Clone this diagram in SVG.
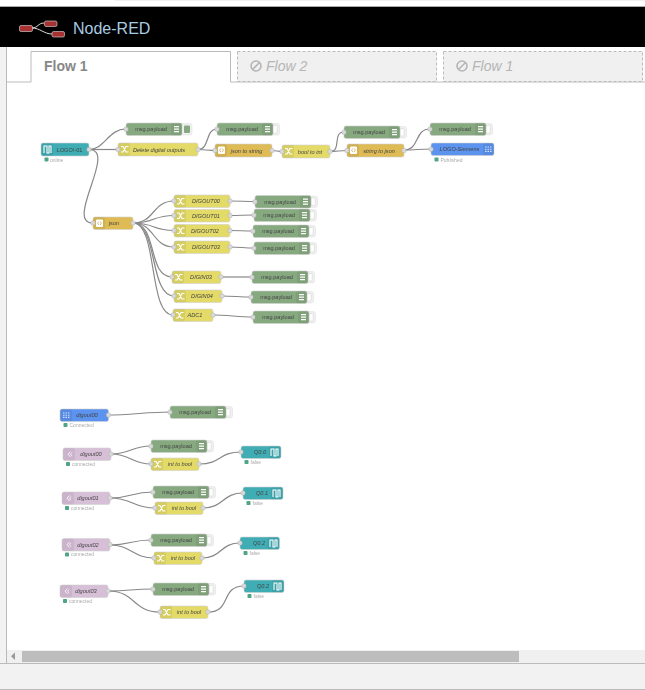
<svg xmlns="http://www.w3.org/2000/svg" width="645" height="690" viewBox="0 0 645 690">
<style>
text{font-family:"Liberation Sans",Arial,sans-serif}
.b{stroke:#d2d2d2;stroke-width:.6}
.fn{fill:#e3da68}.js{fill:#dfbb55}.dg{fill:#87a980}.tl{fill:#3fadb5}.bl{fill:#5b93ee}.pu{fill:#d8bfd8}
.z{fill:#000;fill-opacity:.06}
.l{font-size:5.6px;fill:#444;text-anchor:middle}
.i{font-style:italic}
.s{font-size:5px;fill:#aaa}
.d{fill:#4fa585}
.w{fill:none;stroke:#888;stroke-width:1.2}
.ic{fill:none;stroke:#fff;stroke-width:1.1}
.t{font-size:14px;font-style:italic;fill:#b5b5b5}
.tb{fill:#f0f0f0;stroke:#bbb;stroke-dasharray:3 2}
</style>
<defs>
<filter id="soft" filterUnits="userSpaceOnUse" x="0" y="90" width="645" height="550"><feGaussianBlur stdDeviation=".3"/></filter>
<g id="p"><rect x="-2.1" y="-2.1" width="4.2" height="4.2" rx="1.3" fill="#d9d9d9" stroke="#aaa" stroke-width=".4"/></g>
<g id="sh"><path class="ic" d="M3 3.500H5L8 9H10.500M3 9H5L8 3.500H10.500"/></g>
<g id="cd"><rect x="3" y="2.500" width="7" height="7.500" rx="1" fill="#fff"/><path d="M5.800 4.500 4.600 6.200 5.800 8M7.200 4.500 8.400 6.200 7.200 8" fill="none" stroke="#c9a040" stroke-width=".7"/></g>
<g id="wv"><path class="ic" d="M3 10V3H6V10H8V3H10V10"/></g>
<g id="ws"><path d="M7.500 3.500 5 6.200 7.500 9M9 4.500 7.500 6.200 9 8" fill="none" stroke="#fff" stroke-width=".8"/></g>
<g id="gr"><path d="M3 4H10M3 6.200H10M3 8.400H10" fill="none" stroke="#cfe0ff" stroke-width="1.100" stroke-dasharray="1.500 1"/></g>
<g id="dbgb"><rect x="52" y=".6" width="10.500" height="11.300" rx="2" fill="#f1f1f1" stroke="#ddd" stroke-width=".5"/><rect x="56" y="2.500" width="4.200" height="7.500" rx="1" fill="#fff" stroke="#ccc" stroke-width=".5"/></g>
<g id="dbg"><use href="#dbgb"/><rect class="dg b" width="56" height="12.500" rx="2"/><rect class="z" x="45" width="11" height="12.500" rx="2"/><path d="M48 3.700H53M48 6.200H53M48 8.700H53" stroke="#fff" stroke-width="1.200"/><use href="#p" y="6.250"/></g>
</defs>
<rect width="645" height="690" fill="#fff"/>
<rect x="115" width="530" height="1" fill="#f0f0f0"/>
<rect y="6" width="645" height="1" fill="#aaa"/>
<rect y="7" width="645" height="40" fill="#000"/>
<rect y="47" width="7" height="617" fill="#f2f2f2"/>
<rect x="6" y="47" width=".8" height="617" fill="#aaa"/>
<g id="logo">
<path d="M32 28C38 28 38 23 44 23M32 28C40 28 44 34 52 34" fill="none" stroke="#ddd" stroke-width="1"/>
<rect x="19.500" y="25.500" width="13" height="6" rx="1.500" fill="#a83232" stroke="#ddd" stroke-width=".6"/>
<rect x="44.500" y="21" width="12.500" height="5.500" rx="1.500" fill="#a83232" stroke="#ddd" stroke-width=".6"/>
<rect x="52" y="31.500" width="12.500" height="5.500" rx="1.500" fill="#a83232" stroke="#ddd" stroke-width=".6"/>
</g>
<text x="73" y="34" font-size="16" fill="#a8cbe0">Node-RED</text>
<g id="tabs">
<path d="M7 82H31V51.500H230.500V82H645" fill="#fff" stroke="#bbb"/>
<rect class="tb" x="237.500" y="51.500" width="199" height="30"/>
<rect class="tb" x="443.500" y="51.500" width="199" height="30"/>
<text x="44" y="71" font-size="14" font-weight="bold" fill="#888">Flow 1</text>
<circle cx="256" cy="66" r="5" fill="none" stroke="#b5b5b5" stroke-width="1.600"/><path d="M252.500 69.500 259.500 62.500" stroke="#b5b5b5" stroke-width="1.600"/>
<text class="t" x="266" y="71">Flow 2</text>
<circle cx="462" cy="66" r="5" fill="none" stroke="#b5b5b5" stroke-width="1.600"/><path d="M458.500 69.500 465.500 62.500" stroke="#b5b5b5" stroke-width="1.600"/>
<text class="t" x="472" y="71">Flow 1</text>
</g>
<g id="canvas" filter="url(#soft)">
<g id="connectors" class="w">
<path d="M89 149.500C105 149.500 108 129 126 129"/>
<path d="M89 149.500H118"/>
<path d="M89 149.500C118 149.500 64 223 93 223"/>
<path d="M198 149.500C210 149.500 205 129 217 129"/>
<path d="M198 149.500C205 149.500 208 150.500 215 150.500"/>
<path d="M272 150.500C276 150.500 278 151.500 282 151.500"/>
<path d="M330 151.500C342 151.500 332 132 344 132"/>
<path d="M330 151.500C337 151.500 340 150.500 347 150.500"/>
<path d="M404 150C420 150 414 129 430 129"/>
<path d="M404 150C415 150 420 149 431 149"/>
<path d="M133 223C155 223 152 201 174 201"/>
<path d="M133 223C155 223 152 215.500 174 215.500"/>
<path d="M133 223C155 223 152 230.500 174 230.500"/>
<path d="M133 223C155 223 152 247 174 247"/>
<path d="M133 223C158 223 147 277 172 277"/>
<path d="M133 223C158 223 149 296 174 296"/>
<path d="M133 223C158 223 148 315 173 315"/>
<path d="M230 201C240 201 245 201.500 255 201.500"/>
<path d="M230 215.500C240 215.500 244 215 254 215"/>
<path d="M230 230.500C240 230.500 243 231 253 231"/>
<path d="M230 247C240 247 244 248 254 248"/>
<path d="M221 277C232 277 241 277 252 277"/>
<path d="M222 296C232 296 241 297 251 297"/>
<path d="M213 315C228 315 238 317 253 317"/>
<path d="M108 415C130 415 148 412 170 412"/>
<path d="M111 454C130 454 132 446 151 446"/>
<path d="M111 454C130 454 132 464 151 464"/>
<path d="M199 464C222 464 218 452 241 452"/>
<path d="M110 498C132 498 131 492 153 492"/>
<path d="M110 498C132 498 133 508 155 508"/>
<path d="M203 508C224 508 222 493 243 493"/>
<path d="M110 545C130 545 131 540 151 540"/>
<path d="M110 545C131 545 133 558 154 558"/>
<path d="M202 558C222 558 220 543 240 543"/>
<path d="M108 591C130 591 131 589 153 589"/>
<path d="M108 591C136 591 132 612 160 612"/>
<path d="M208 612C232 612 220 586 244 586"/>
</g>
<g id="logo01" transform="translate(41,143)"><rect class="tl b" width="48" height="13" rx="2"/><rect class="z" width="12" height="13" rx="2"/><use href="#wv"/><use href="#p" x="48" y="6.500"/><text class="l" x="28.500" y="8.500">LOGO!-01</text><rect class="d" x="3.500" y="14.500" width="4" height="4" rx=".8"/><text class="s" x="9" y="18.500">online</text></g>
<g id="dbg1" transform="translate(126,123)"><rect x="52" y=".6" width="14" height="11.300" rx="2" fill="#f1f1f1" stroke="#ddd" stroke-width=".5"/><rect x="58" y="2.500" width="6" height="7.500" rx="1" fill="#87a980"/><rect class="dg b" width="56" height="12.500" rx="2"/><rect class="z" x="45" width="11" height="12.500" rx="2"/><path d="M48 3.700H53M48 6.200H53M48 8.700H53" stroke="#fff" stroke-width="1.200"/><use href="#p" y="6.250"/><text class="l" x="25" y="8.200">msg.payload</text></g>
<g id="del" transform="translate(118,143)"><rect class="fn b" width="80" height="13" rx="2"/><rect class="z" width="12" height="13" rx="2"/><use href="#sh"/><use href="#p" y="6.500"/><use href="#p" x="80" y="6.500"/><text class="l i" x="41" y="8.500">Delete digital outputs</text></g>
<g id="dbg2" transform="translate(217,123)"><use href="#dbg"/><text class="l" x="25" y="8.200">msg.payload</text></g>
<g id="j2s" transform="translate(215,144)"><rect class="js b" width="57" height="13" rx="2"/><rect class="z" width="12" height="13" rx="2"/><use href="#cd"/><use href="#p" y="6.500"/><use href="#p" x="57" y="6.500"/><text class="l i" x="31.500" y="8.500">json to string</text></g>
<g id="b2i" transform="translate(282,145)"><rect class="fn b" width="48" height="13" rx="2"/><rect class="z" width="12" height="13" rx="2"/><use href="#sh"/><use href="#p" y="6.500"/><use href="#p" x="48" y="6.500"/><text class="l i" x="28" y="8.500">bool to int</text></g>
<g id="dbg3" transform="translate(344,126)"><use href="#dbg"/><text class="l" x="25" y="8.200">msg.payload</text></g>
<g id="s2j" transform="translate(347,144)"><rect class="js b" width="57" height="13" rx="2"/><rect class="z" width="12" height="13" rx="2"/><use href="#cd"/><use href="#p" y="6.500"/><use href="#p" x="57" y="6.500"/><text class="l i" x="32" y="8.500">string to json</text></g>
<g id="dbg4" transform="translate(430,123)"><use href="#dbg"/><text class="l" x="25" y="8.200">msg.payload</text></g>
<g id="siemens" transform="translate(431,143)"><rect class="bl b" width="63" height="12.500" rx="2"/><rect class="z" x="52" width="11" height="12.500" rx="2"/><use href="#gr" x="51"/><use href="#p" y="6.250"/><text class="l i" x="28.500" y="8.200">LOGO-Siemens</text><rect class="d" x="3.500" y="14.500" width="4" height="4" rx=".8"/><text class="s" x="9.500" y="18.500">Published</text></g>
<g id="json" transform="translate(93,217)"><rect class="js b" width="40" height="12.500" rx="2"/><rect class="z" width="12" height="12.500" rx="2"/><use href="#cd"/><use href="#p" y="6"/><use href="#p" x="40" y="6"/><text class="l" x="21" y="8.200">json</text></g>
<g id="f0" transform="translate(174,195)"><rect class="fn b" width="56" height="12.500" rx="2"/><rect class="z" width="12" height="12.500" rx="2"/><use href="#sh"/><use href="#p" y="6"/><use href="#p" x="56" y="6"/><text class="l i" x="32" y="8.200">DIGOUT00</text></g>
<g id="f1" transform="translate(174,209.500)"><rect class="fn b" width="56" height="12.500" rx="2"/><rect class="z" width="12" height="12.500" rx="2"/><use href="#sh"/><use href="#p" y="6"/><use href="#p" x="56" y="6"/><text class="l i" x="32" y="8.200">DIGOUT01</text></g>
<g id="f2" transform="translate(174,224.500)"><rect class="fn b" width="56" height="12.500" rx="2"/><rect class="z" width="12" height="12.500" rx="2"/><use href="#sh"/><use href="#p" y="6"/><use href="#p" x="56" y="6"/><text class="l i" x="31" y="8.200">DIGOUT02</text></g>
<g id="f3" transform="translate(174,241)"><rect class="fn b" width="56" height="12.500" rx="2"/><rect class="z" width="12" height="12.500" rx="2"/><use href="#sh"/><use href="#p" y="6"/><use href="#p" x="56" y="6"/><text class="l i" x="32" y="8.200">DIGOUT03</text></g>
<g id="f4" transform="translate(172,271)"><rect class="fn b" width="49" height="12.500" rx="2"/><rect class="z" width="12" height="12.500" rx="2"/><use href="#sh"/><use href="#p" y="6"/><use href="#p" x="49" y="6"/><text class="l i" x="29" y="8.200">DIGIN03</text></g>
<g id="f5" transform="translate(174,290)"><rect class="fn b" width="48" height="12.500" rx="2"/><rect class="z" width="12" height="12.500" rx="2"/><use href="#sh"/><use href="#p" y="6"/><use href="#p" x="48" y="6"/><text class="l i" x="28" y="8.200">DIGIN04</text></g>
<g id="f6" transform="translate(173,309)"><rect class="fn b" width="40" height="12.500" rx="2"/><rect class="z" width="12" height="12.500" rx="2"/><use href="#sh"/><use href="#p" y="6"/><use href="#p" x="40" y="6"/><text class="l i" x="22" y="8.200">ADC1</text></g>
<g id="d0" transform="translate(255,195.500)"><use href="#dbg"/><text class="l" x="25" y="8.200">msg.payload</text></g>
<g id="d1" transform="translate(254,209)"><use href="#dbg"/><text class="l" x="25" y="8.200">msg.payload</text></g>
<g id="d2" transform="translate(253,225)"><use href="#dbg"/><text class="l" x="25" y="8.200">msg.payload</text></g>
<g id="d3" transform="translate(254,242)"><use href="#dbg"/><text class="l" x="25" y="8.200">msg.payload</text></g>
<g id="d4" transform="translate(252,271)"><use href="#dbg"/><text class="l" x="25" y="8.200">msg.payload</text></g>
<g id="d5" transform="translate(251,291)"><use href="#dbg"/><text class="l" x="25" y="8.200">msg.payload</text></g>
<g id="d6" transform="translate(253,311)"><use href="#dbg"/><text class="l" x="25" y="8.200">msg.payload</text></g>
<g id="blue0" transform="translate(60,409)"><rect class="bl b" width="48.500" height="12.500" rx="2"/><rect class="z" width="12" height="12.500" rx="2"/><use href="#gr"/><use href="#p" x="48.500" y="6"/><text class="l i" x="27" y="8.200">digout00</text><rect class="d" x="3.500" y="14" width="4" height="4" rx=".8"/><text class="s" x="9.500" y="17.500">Connected</text></g>
<g id="d7" transform="translate(170,406)"><use href="#dbg"/><text class="l" x="25" y="8.200">msg.payload</text></g>
<g id="in0" transform="translate(63,448)"><rect class="pu b" width="48" height="12.500" rx="2"/><rect class="z" width="12" height="12.500" rx="2"/><use href="#ws"/><use href="#p" x="48" y="6"/><text class="l i" x="28" y="8.200">digout00</text><rect class="d" x="3" y="14" width="4" height="4" rx=".8"/><text class="s" x="9" y="17.500">connected</text></g>
<g id="d8" transform="translate(151,440)"><use href="#dbg"/><text class="l" x="25" y="8.200">msg.payload</text></g>
<g id="ib0" transform="translate(151,458)"><rect class="fn b" width="48" height="12.500" rx="2"/><rect class="z" width="12" height="12.500" rx="2"/><use href="#sh"/><use href="#p" y="6"/><use href="#p" x="48" y="6"/><text class="l i" x="29" y="8.200">int to bool</text></g>
<g id="q0" transform="translate(241,446)"><rect class="tl b" width="40" height="12.500" rx="2"/><rect class="z" x="28" width="12" height="12.500" rx="2"/><use href="#wv" x="27"/><use href="#p" y="6"/><text class="l i" x="19" y="8.200">Q0.0</text><rect class="d" x="3.500" y="14" width="4" height="4" rx=".8"/><text class="s" x="9.500" y="17.500">false</text></g>
<g id="in1" transform="translate(62,492)"><rect class="pu b" width="48" height="12.500" rx="2"/><rect class="z" width="12" height="12.500" rx="2"/><use href="#ws"/><use href="#p" x="48" y="6"/><text class="l i" x="26" y="8.200">digout01</text><rect class="d" x="3" y="14" width="4" height="4" rx=".8"/><text class="s" x="9" y="17.500">connected</text></g>
<g id="d9" transform="translate(153,486)"><use href="#dbg"/><text class="l" x="25" y="8.200">msg.payload</text></g>
<g id="ib1" transform="translate(155,502)"><rect class="fn b" width="48" height="12.500" rx="2"/><rect class="z" width="12" height="12.500" rx="2"/><use href="#sh"/><use href="#p" y="6"/><use href="#p" x="48" y="6"/><text class="l i" x="29" y="8.200">int to bool</text></g>
<g id="q1" transform="translate(243,487)"><rect class="tl b" width="40" height="12.500" rx="2"/><rect class="z" x="28" width="12" height="12.500" rx="2"/><use href="#wv" x="27"/><use href="#p" y="6"/><text class="l i" x="19" y="8.200">Q0.1</text><rect class="d" x="3.500" y="14" width="4" height="4" rx=".8"/><text class="s" x="9.500" y="17.500">false</text></g>
<g id="in2" transform="translate(62,538.500)"><rect class="pu b" width="48" height="12.500" rx="2"/><rect class="z" width="12" height="12.500" rx="2"/><use href="#ws"/><use href="#p" x="48" y="6"/><text class="l i" x="26" y="8.200">digout02</text><rect class="d" x="3" y="14" width="4" height="4" rx=".8"/><text class="s" x="9" y="17.500">connected</text></g>
<g id="d10" transform="translate(151,534)"><use href="#dbg"/><text class="l" x="25" y="8.200">msg.payload</text></g>
<g id="ib2" transform="translate(154,552)"><rect class="fn b" width="48" height="12.500" rx="2"/><rect class="z" width="12" height="12.500" rx="2"/><use href="#sh"/><use href="#p" y="6"/><use href="#p" x="48" y="6"/><text class="l i" x="29" y="8.200">int to bool</text></g>
<g id="q2" transform="translate(240,537)"><rect class="tl b" width="39.500" height="12.500" rx="2"/><rect class="z" x="27.500" width="12" height="12.500" rx="2"/><use href="#wv" x="27"/><use href="#p" y="6"/><text class="l i" x="19" y="8.200">Q0.2</text><rect class="d" x="3.500" y="14" width="4" height="4" rx=".8"/><text class="s" x="9.500" y="17.500">false</text></g>
<g id="in3" transform="translate(60,585)"><rect class="pu b" width="48" height="12.500" rx="2"/><rect class="z" width="12" height="12.500" rx="2"/><use href="#ws"/><use href="#p" x="48" y="6"/><text class="l i" x="26" y="8.200">digout03</text><rect class="d" x="3" y="14" width="4" height="4" rx=".8"/><text class="s" x="9" y="17.500">connected</text></g>
<g id="d11" transform="translate(153,583)"><use href="#dbg"/><text class="l" x="25" y="8.200">msg.payload</text></g>
<g id="ib3" transform="translate(160,606)"><rect class="fn b" width="48" height="12.500" rx="2"/><rect class="z" width="12" height="12.500" rx="2"/><use href="#sh"/><use href="#p" y="6"/><use href="#p" x="48" y="6"/><text class="l i" x="29" y="8.200">int to bool</text></g>
<g id="q3" transform="translate(244,580)"><rect class="tl b" width="40" height="12.500" rx="2"/><rect class="z" x="28" width="12" height="12.500" rx="2"/><use href="#wv" x="27"/><use href="#p" y="6"/><text class="l i" x="19" y="8.200">Q0.2</text><rect class="d" x="3.500" y="14" width="4" height="4" rx=".8"/><text class="s" x="9.500" y="17.500">false</text></g>
</g>
<g id="scroll">
<rect x="7" y="650" width="638" height="13" fill="#f0f0f0"/>
<rect x="22" y="651" width="497" height="11" fill="#bdbdbd"/>
<path d="M15 652.500V660L11 656.200Z" fill="#999"/>
<rect y="663" width="645" height="1" fill="#bbb"/>
<rect y="664" width="645" height="25" fill="#f2f2f2"/>
<rect y="689" width="645" height="1" fill="#bbb"/>
</g>
</svg>
